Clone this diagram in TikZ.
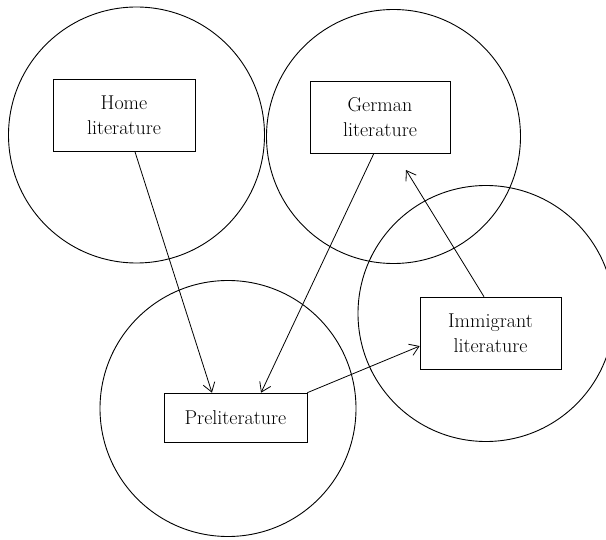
\documentclass[tikz,border=0pt]{standalone}
\usetikzlibrary{arrows.meta,calc}
\begin{document}
\begin{tikzpicture}[x=1pt,y=-1pt,
  ring/.style={draw,circle,line width=0.9pt,minimum size=256pt,inner sep=0pt},
  lbox/.style={draw,line width=0.6pt,minimum width=142pt,minimum height=72pt,inner sep=0pt,align=center,font=\fontsize{20}{25}\selectfont},
  conn/.style={line width=0.8pt,-{Straight Barb[length=9pt,width=12pt,line width=0.8pt]}}]
\useasboundingbox (0,0) rectangle (606,540);
\node[ring] (c1) at (136.5,135) {};
\node[ring,minimum size=254pt] (c2) at (393.5,136.5) {};
\node[ring] (c3) at (228,408.5) {};
\node[ring] (c4) at (486,313.5) {};
\node[lbox] (home) at (124,115.5) {Home\\literature};
\node[lbox,minimum width=140pt] (german) at (380,117) {German\\literature};
\node[lbox,minimum width=143pt,minimum height=49pt] (pre) at (235.5,417.5) {Preliterature};
\node[lbox,minimum width=141pt] (imm) at (490.5,333) {Immigrant\\literature};
\coordinate (gtip) at (406,170);
\draw[conn] ($(home.south west)!0.577!(home.south east)$) -- ($(pre.north west)!0.336!(pre.north east)$);
\draw[conn] ($(german.south west)!0.457!(german.south east)$) -- ($(pre.north west)!0.678!(pre.north east)$);
\draw[conn] (pre.north east) -- ($(imm.north west)!0.68!(imm.south west)$);
\draw[conn] ($(imm.north west)!0.454!(imm.north east)$) -- (gtip);
\end{tikzpicture}
\end{document}
